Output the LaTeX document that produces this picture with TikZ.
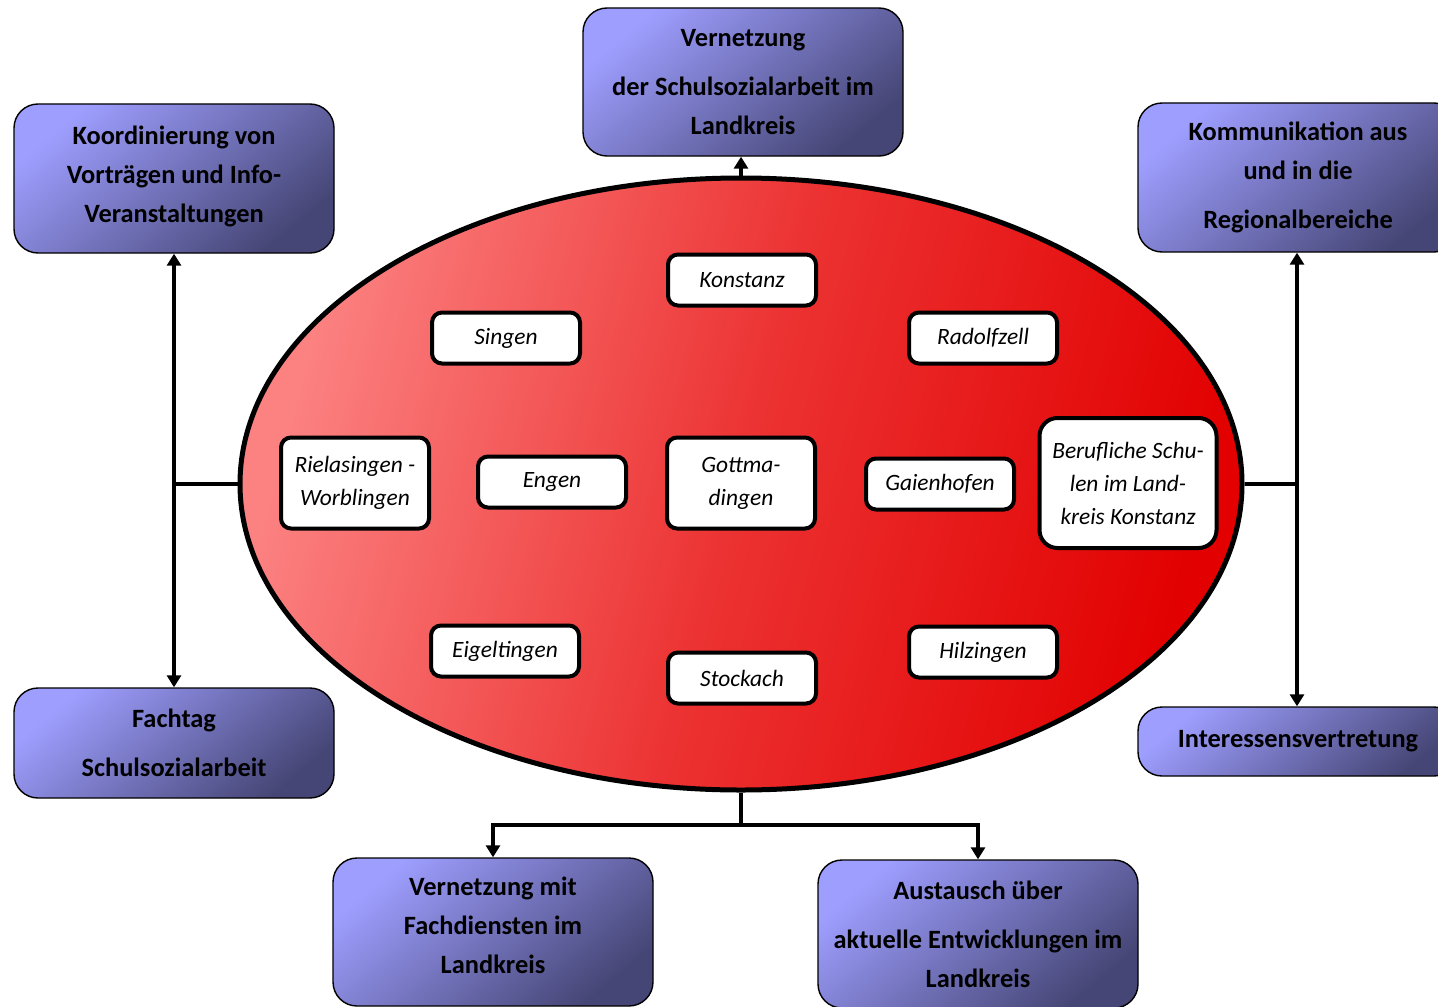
\documentclass[tikz,border=0pt]{standalone}
\usepackage{fontspec}
\setmainfont{Carlito}
\usetikzlibrary{arrows.meta,shapes.geometric}
\definecolor{boxlight}{RGB}{158,158,255}
\definecolor{boxdark}{RGB}{70,70,118}
\definecolor{elllight}{RGB}{252,130,130}
\definecolor{ellred}{RGB}{226,0,0}
\begin{document}
\begin{tikzpicture}[x=0.5pt,y=-0.5pt,
 outerbox/.style={draw=black, line width=0.7pt, rounded corners=12pt, top color=boxlight, bottom color=boxdark, shading angle=40, align=center, font=\bfseries\fontsize{13.2}{19.5}\selectfont, inner sep=0pt, minimum width=160pt},
 town/.style={draw=black, line width=2pt, rounded corners=5pt, fill=white, align=center, font=\itshape\fontsize{11.7}{16.5}\selectfont, minimum width=74pt, minimum height=25.5pt, inner sep=0pt},
 conn/.style={line width=2pt},
 arr/.style={conn, -{Triangle[width=7pt,length=6pt]}},
]
\useasboundingbox (0,0) rectangle (1438,1006);
\fill[white] (0,0) rectangle (1438,1006);

% central ellipse
\node[ellipse, draw=black, line width=2.5pt, left color=elllight, right color=ellred, middle color={rgb,255:red,236;green,50;blue,50}, shading angle=75, minimum width=501pt, minimum height=306pt, inner sep=0pt] (E) at (741,484) {};

% outer boxes
\node[outerbox, minimum height=74pt] (T) at (743,82) {Vernetzung\\[5pt] der Schulsozialarbeit im\\ Landkreis};
\node[outerbox, minimum height=74.5pt] (LT) at (174,178.5) {Koordinierung von\\ Vorträgen und Info-\\ Veranstaltungen\\[-15pt]};
\node[outerbox, minimum height=74.5pt] (RT) at (1298,177.5) {Kommunikation aus\\ und in die\\[5pt] Regionalbereiche};
\node[outerbox, minimum height=55pt] (LB) at (174,743) {Fachtag\\[5pt] Schulsozialarbeit};
\node[outerbox, minimum height=34.5pt] (RB) at (1298,741.5) {Interessensvertretung};
\node[outerbox, minimum height=74pt] (BL) at (493,932) {Vernetzung mit\\ Fachdiensten im\\ Landkreis\\[-13pt]};
\node[outerbox, minimum height=74pt] (BR) at (978,934) {Austausch über\\[5pt] aktuelle Entwicklungen im\\ Landkreis};

% towns
\node[town] (konstanz) at (742,280) {Konstanz};
\node[town] (singen) at (506,338) {Singen};
\node[town] (radolfzell) at (983,338) {Radolfzell};
\node[town, minimum height=45.5pt] (riel) at (355,483) {Rielasingen -\\ Worblingen};
\node[town] (engen) at (552,482) {Engen};
\node[town, minimum height=45.5pt] (gott) at (741,483) {Gottma-\\ dingen};
\node[town] (gaien) at (940,484) {Gaienhofen};
\node[town, minimum width=88.5pt, minimum height=65pt, rounded corners=9pt] (beruf) at (1128,483) {Berufliche Schu-\\ len im Land-\\ kreis Konstanz};
\node[town] (eigel) at (505,651) {Eigeltingen};
\node[town] (stockach) at (742,678) {Stockach};
\node[town] (hilz) at (983,652) {Hilzingen};

% connectors
\draw[arr] (E.north) -- (T.south -| E.north);
\coordinate (L) at (174,484);
\draw[conn] (E.west) -- (L);
\draw[arr] (L) -- (L |- LT.south);
\draw[arr] (L) -- (L |- LB.north);
\coordinate (R) at (1297,484);
\draw[conn] (E.east) -- (R);
\draw[arr] (R) -- (R |- RT.south);
\draw[arr] (R) -- (R |- RB.north);
\coordinate (B) at (741,825);
\draw[conn] (E.south) -- (B);
\draw[arr] (B) -| (BL.north);
\draw[arr] (B) -| (BR.north);
\end{tikzpicture}
\end{document}
